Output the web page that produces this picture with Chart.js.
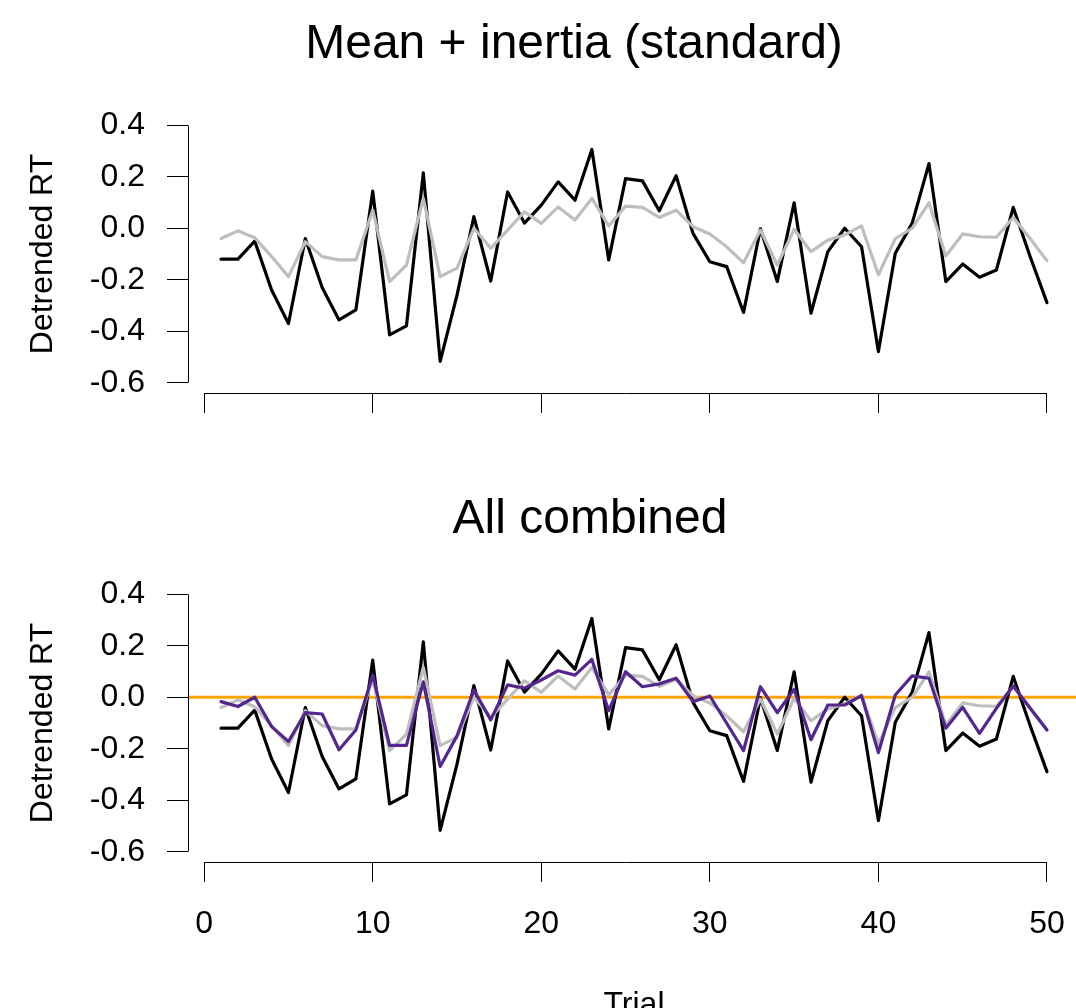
<!DOCTYPE html>
<html>
<head>
<meta charset="utf-8">
<script src="https://cdn.jsdelivr.net/npm/chart.js@4.4.1/dist/chart.umd.min.js"></script>
<style>
  html, body { margin: 0; padding: 0; background: #fff; overflow: hidden; }
  body { width: 1076px; height: 1008px; position: relative; }
  canvas { position: absolute; left: 0; }
  #topPanel { top: 0; }
  #bottomPanel { top: 469px; }
</style>
</head>
<body>
<canvas id="topPanel" width="1080" height="470"></canvas>
<canvas id="bottomPanel" width="1080" height="560"></canvas>
<script>
// trial numbers (x) and detrended RT series
const trials = [1, 2, 3, 4, 5, 6, 7, 8, 9, 10, 11, 12, 13, 14, 15, 16, 17, 18, 19, 20,
                21, 22, 23, 24, 25, 26, 27, 28, 29, 30, 31, 32, 33, 34, 35, 36, 37, 38, 39, 40,
                41, 42, 43, 44, 45, 46, 47, 48, 49, 50];

const observedRT = [-0.12, -0.12, -0.05, -0.24, -0.37, -0.04, -0.23, -0.356, -0.317, 0.144,
                    -0.414, -0.379, 0.215, -0.517, -0.26, 0.045, -0.205, 0.141, 0.02, 0.09,
                    0.18, 0.109, 0.306, -0.123, 0.193, 0.184, 0.068, 0.204, -0.02, -0.13,
                    -0.149, -0.327, -0.002, -0.207, 0.099, -0.33, -0.091, 0.0, -0.072, -0.479,
                    -0.097, 0.019, 0.251, -0.207, -0.139, -0.19, -0.162, 0.081, -0.11, -0.289];

const meanInertia = [-0.04, -0.01, -0.037, -0.11, -0.188, -0.052, -0.11, -0.123, -0.123, 0.07,
                     -0.207, -0.143, 0.116, -0.188, -0.155, 0.0, -0.078, -0.007, 0.064, 0.019,
                     0.083, 0.032, 0.116, 0.009, 0.086, 0.081, 0.042, 0.07, 0.006, -0.022,
                     -0.072, -0.134, -0.007, -0.143, -0.004, -0.091, -0.046, -0.026, 0.009, -0.181,
                     -0.04, 0.0, 0.099, -0.108, -0.022, -0.033, -0.035, 0.042, -0.04, -0.126];

const allCombined = [-0.017, -0.036, 0.0, -0.114, -0.172, -0.06, -0.065, -0.204, -0.127, 0.086,
                     -0.187, -0.187, 0.06, -0.269, -0.15, 0.028, -0.088, 0.048, 0.035, 0.067,
                     0.103, 0.086, 0.147, -0.052, 0.099, 0.041, 0.052, 0.074, -0.017, 0.005,
                     -0.101, -0.207, 0.041, -0.06, 0.031, -0.165, -0.03, -0.03, 0.006, -0.215,
                     0.009, 0.083, 0.074, -0.12, -0.039, -0.14, -0.043, 0.044, -0.043, -0.127];

const referenceLevel = 0;
const xTicks = [0, 10, 20, 30, 40, 50];
const yTicks = [-0.6, -0.4, -0.2, 0, 0.2, 0.4];
const yLimits = [-0.6, 0.4];

const fontFamily = '"Liberation Sans", Arial, sans-serif';
Chart.defaults.font.family = fontFamily;
Chart.defaults.color = '#000';

// R-style 4% range extension
const xSpan = trials[trials.length - 1] - trials[0];
const xMin = trials[0] - 0.04 * xSpan;
const xMax = trials[trials.length - 1] + 0.04 * xSpan;
const ySpan = yLimits[1] - yLimits[0];
const yMin = yLimits[0] - 0.04 * ySpan;
const yMax = yLimits[1] + 0.04 * ySpan;

function series(values) {
    return trials.map((t, i) => ({ x: t, y: values[i] }));
}

function lineSet(data, color, order) {
    return {
        data: data,
        borderColor: color,
        borderWidth: 3.2,
        pointRadius: 0,
        tension: 0,
        borderJoinStyle: 'round',
        borderCapStyle: 'round',
        order: order
    };
}

// axis lines only between first and last tick, like base R
const rAxisLines = {
    id: 'rAxisLines',
    afterDraw(chart) {
        const { ctx, chartArea, scales } = chart;
        const al = v => Math.round(v - 0.5) + 0.5;
        ctx.save();
        ctx.strokeStyle = '#000';
        ctx.lineWidth = 1;
        ctx.beginPath();
        ctx.moveTo(al(scales.x.getPixelForValue(xTicks[0])), al(chartArea.bottom));
        ctx.lineTo(al(scales.x.getPixelForValue(xTicks[xTicks.length - 1])), al(chartArea.bottom));
        ctx.moveTo(al(chartArea.left), al(scales.y.getPixelForValue(yTicks[0])));
        ctx.lineTo(al(chartArea.left), al(scales.y.getPixelForValue(yTicks[yTicks.length - 1])));
        ctx.stroke();
        ctx.restore();
    }
};

const panelTitle = {
    id: 'panelTitle',
    afterDraw(chart, args, opts) {
        const ctx = chart.ctx;
        ctx.save();
        ctx.font = opts.size + 'px ' + fontFamily;
        ctx.fillStyle = '#000';
        ctx.textAlign = 'center';
        ctx.textBaseline = 'alphabetic';
        ctx.fillText(opts.text, opts.x, opts.y);
        ctx.restore();
    }
};

function noPadding(s) {
    s.paddingLeft = 0; s.paddingRight = 0; s.paddingTop = 0; s.paddingBottom = 0;
}

function makePanel(id, title, titleX, titleY, datasets, showXLabels, xAxisHeight) {
    return new Chart(document.getElementById(id), {
        type: 'line',
        data: { datasets: datasets },
        plugins: [rAxisLines, panelTitle],
        options: {
            responsive: false,
            animation: false,
            devicePixelRatio: 1,
            layout: { padding: { top: 115, left: 0, right: 0, bottom: 0 }, autoPadding: false },
            plugins: {
                legend: { display: false },
                tooltip: { enabled: false },
                panelTitle: { text: title, x: titleX, y: titleY, size: 48 }
            },
            scales: {
                x: {
                    type: 'linear',
                    min: xMin,
                    max: xMax,
                    afterBuildTicks: s => { s.ticks = xTicks.map(v => ({ value: v })); },
                    afterFit: s => { s.height = xAxisHeight; noPadding(s); },
                    grid: { drawOnChartArea: false, drawTicks: true, tickLength: 20, color: '#000', lineWidth: 1 },
                    border: { display: false },
                    ticks: { display: showXLabels, padding: 23, maxRotation: 0, autoSkip: false,
                             font: { size: 32 }, color: '#000' },
                    title: { display: showXLabels, text: 'Trial', font: { size: 32 }, color: '#000',
                             padding: { top: 0, bottom: 5 } }
                },
                y: {
                    min: yMin,
                    max: yMax,
                    afterBuildTicks: s => { s.ticks = yTicks.map(v => ({ value: v })); },
                    afterFit: s => { s.width = 188; noPadding(s); },
                    grid: { drawOnChartArea: false, drawTicks: true, tickLength: 21, color: '#000', lineWidth: 1 },
                    border: { display: false },
                    ticks: { padding: 22, font: { size: 32 }, color: '#000',
                             callback: v => v.toFixed(1) },
                    title: { display: true, text: 'Detrended RT', font: { size: 32 }, color: '#000',
                             padding: { top: 24, bottom: 0 } }
                }
            }
        }
    });
}

makePanel('topPanel', 'Mean + inertia (standard)', 574, 58, [
    lineSet(series(meanInertia), '#BEBEBE', 1),
    lineSet(series(observedRT), '#000000', 2)
], false, 77);

makePanel('bottomPanel', 'All combined', 590, 64, [
    lineSet(series(allCombined), '#54278F', 0),
    lineSet(series(meanInertia), '#BEBEBE', 1),
    lineSet(series(observedRT), '#000000', 2),
    lineSet([{ x: xMin, y: referenceLevel }, { x: xMax, y: referenceLevel }], '#FFA500', 3)
], true, 167);
</script>
</body>
</html>
